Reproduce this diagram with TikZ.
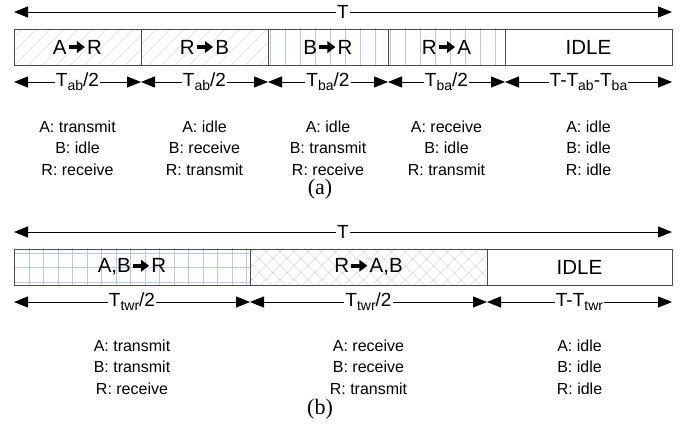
\documentclass[tikz,border=0pt]{standalone}
\usepackage{fontspec}
\setmainfont{Liberation Sans}
\newfontfamily\capfont{Liberation Serif}
\usetikzlibrary{arrows.meta, patterns.meta, chains, positioning}
\definecolor{hatch}{RGB}{178,202,226}
% heavy arrow between the station letters
\newcommand{\tto}{\kern0.5pt\tikz[baseline=-7pt]\draw[line width=3.6pt, -{Triangle[length=8pt,width=11.5pt]}] (0pt,0pt) -- (16pt,0pt);\kern0.5pt}
\newcommand{\sub}[1]{\raisebox{-0.22em}{\fontsize{14}{14}\selectfont #1}}
\newcommand{\half}[1]{T\sub{#1}/2}

\begin{document}
\begin{tikzpicture}[x=1pt, y=-1pt,
    slot/.style={draw=black!70, line width=0.8pt, minimum height=36pt, inner sep=0pt,
                 outer sep=0pt, font=\fontsize{20.5}{20.5}\selectfont},
    span/.style={{Triangle[length=14pt,width=11pt]}-{Triangle[length=14pt,width=11pt]}, line width=0.9pt},
    lbl/.style={fill=white, inner sep=1pt, font=\fontsize{19}{19}\selectfont},
    state/.style={align=center, font=\fontsize{16}{21.5}\selectfont},
    capt/.style={font=\capfont\fontsize{22}{22}\selectfont}]

    \useasboundingbox (0,0) rectangle (682,427); % same proportions as the figure

    % (a) one-way relaying, four slots and an idle part
    \begin{scope}[every node/.style={slot, on chain},
                  diag/.style={pattern={Lines[angle=45, distance=10.5pt, line width=0.6pt]}, pattern color=hatch},
                  vert/.style={pattern={Lines[angle=90, distance=15pt, line width=0.8pt]}, pattern color=hatch},
                  start chain, node distance=0pt]
    \node [diag, minimum width=127pt, anchor=north west] (ar) at (14,29) {A\tto R};
    \node [diag, minimum width=127pt] (rb) {R\tto B};
    \node [vert, minimum width=120pt] (br) {B\tto R};
    \node [vert, minimum width=117pt] (ra) {R\tto A};
    \node [minimum width=167pt] (idlea) {IDLE};
    \end{scope}

    \draw [span] ([yshift=17pt]ar.north west) -- ([yshift=17pt]idlea.north east) node [lbl, midway] {T};
    \foreach \s/\t in {ar/ab, rb/ab, br/ba, ra/ba}
        \draw [span] ([yshift=-17pt]\s.south west) -- ([yshift=-17pt]\s.south east) node [lbl, midway] {\half{\t}};
    \draw [span] ([yshift=-17pt]idlea.south west) -- ([yshift=-17pt]idlea.south east)
        node [lbl, midway] {T-T\sub{ab}-T\sub{ba}};

    \node [state] (sar) at ([yshift=-83pt]ar.south) {A: transmit\\B: idle\\R: receive};
    \node [state] (srb) at ([yshift=-83pt]rb.south) {A: idle\\B: receive\\R: transmit};
    \node [state] (sbr) at ([yshift=-83pt]br.south) {A: idle\\B: transmit\\R: receive};
    \node [state] (sra) at ([yshift=-83pt]ra.south) {A: receive\\B: idle\\R: transmit};
    \node [state] (sia) at ([yshift=-83pt]idlea.south) {A: idle\\B: idle\\R: idle};
    \node [capt] (capa) at (320,189) {(a)};

    % (b) two-way relaying, two slots and an idle part
    \begin{scope}[every node/.style={slot, on chain},
                  gridfill/.style={pattern={Hatch[angle=0, distance=14.5pt, line width=0.8pt]}, pattern color=hatch},
                  crossfill/.style={pattern={Hatch[angle=45, distance=10.5pt, line width=0.6pt]}, pattern color=hatch},
                  start chain, node distance=0pt]
    \node [gridfill, minimum width=236pt, anchor=north west] (abr) at (14,249) {A,B\tto R};
    \node [crossfill, minimum width=237pt] (rab) {R\tto A,B};
    \node [minimum width=185pt] (idleb) {IDLE};
    \end{scope}

    \draw [span] ([yshift=17pt]abr.north west) -- ([yshift=17pt]idleb.north east) node [lbl, midway] {T};
    \foreach \s in {abr, rab}
        \draw [span] ([yshift=-17pt]\s.south west) -- ([yshift=-17pt]\s.south east) node [lbl, midway] {\half{twr}};
    \draw [span] ([yshift=-17pt]idleb.south west) -- ([yshift=-17pt]idleb.south east)
        node [lbl, midway] {T-T\sub{twr}};

    \node [state] (sabr) at ([yshift=-82pt]abr.south) {A: transmit\\B: transmit\\R: receive};
    \node [state] (srab) at ([yshift=-82pt]rab.south) {A: receive\\B: receive\\R: transmit};
    \node [state] (sib)  at ([yshift=-82pt]idleb.south) {A: idle\\B: idle\\R: idle};
    \node [capt] (capb) at (320,409) {(b)};

\end{tikzpicture}
\end{document}
